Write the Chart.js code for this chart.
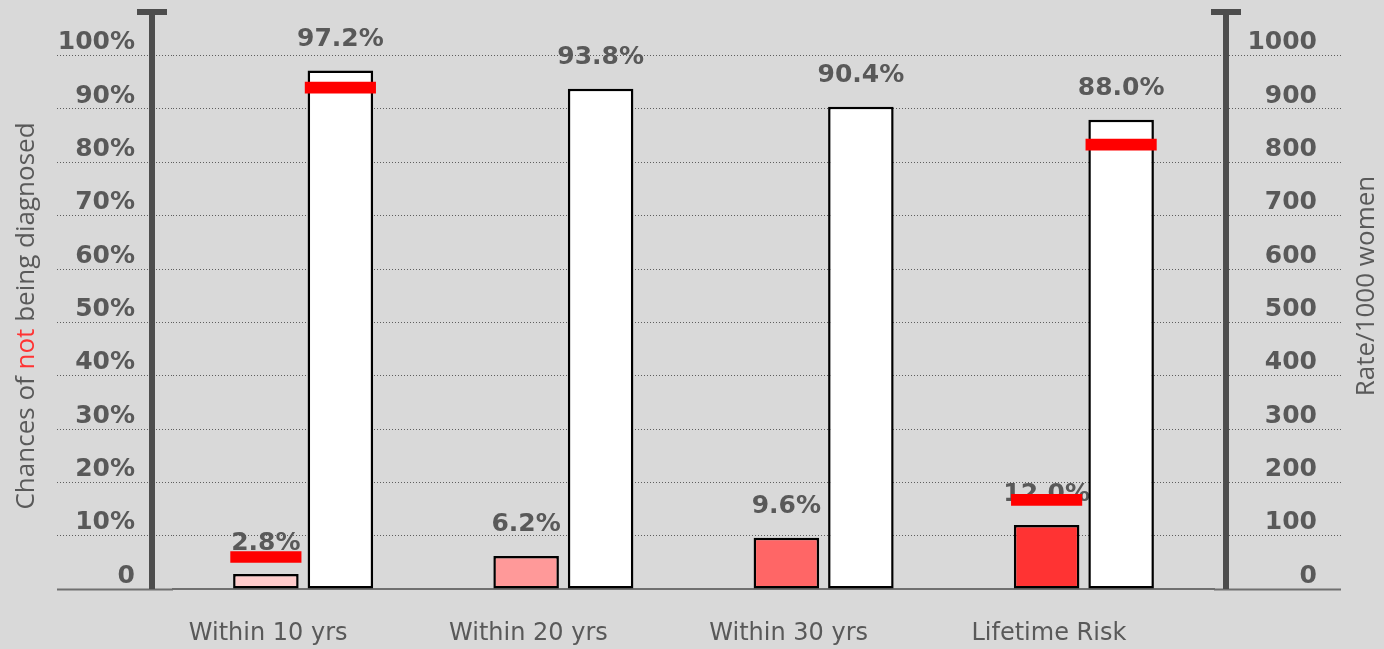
<!DOCTYPE html>
<html>
<head>
<meta charset="utf-8">
<title>Chances of not being diagnosed</title>
<script src="https://cdn.jsdelivr.net/npm/chart.js@4.4.1/dist/chart.umd.min.js"></script>
<style>
  html, body { margin: 0; padding: 0; background: #d9d9d9; }
  #wrap { position: relative; width: 1384px; height: 649px; }
</style>
</head>
<body>
<div id="wrap"><canvas id="chart"></canvas></div>
<script>
const categories = ['Within 10 yrs', 'Within 20 yrs', 'Within 30 yrs', 'Lifetime Risk'];
const diagnosedPct = [2.8, 6.2, 9.6, 12.0];
const notDiagnosedPct = [97.2, 93.8, 90.4, 88.0];
const diagnosedColors = ['#ffcccc', '#ff9999', '#ff6666', '#ff3333'];

// rate per 1000 women, drawn as red marks against the right axis
const rateDiagnosed = [60, null, null, 167];
const rateNotDiagnosed = [940, null, null, 833];

const pctTicks = [0, 10, 20, 30, 40, 50, 60, 70, 80, 90, 100];
const rateTicks = [0, 100, 200, 300, 400, 500, 600, 700, 800, 900, 1000];

const GREY = '#595959';
const GRID = '#5e5e5e';
const BASE = '#707070';
const MARK_HALF = 11;        // half thickness of a rate mark, in rate units
const CAT_PCT = 0.5725;

const toMark = v => (v == null ? null : [v - MARK_HALF, v + MARK_HALF]);

const tickStyle = {
  tickColor: c => (c.tick && c.tick.value === 0 ? BASE : GRID),
  tickWidth: c => (c.tick && c.tick.value === 0 ? 2 : 1),
  tickBorderDash: c => (c.tick && c.tick.value === 0 ? [] : [1, 2])
};

// keep the plot top fixed by the layout padding only
const noEdgePadding = s => { s.paddingTop = 0; s.paddingBottom = 0; };

// axis posts, value labels and the two rotated titles
const decorations = {
  id: 'decorations',
  beforeDatasetsDraw(chart) {
    const { ctx, chartArea: a } = chart;
    ctx.save();
    ctx.fillStyle = '#4d4d4d';
    [a.left - 21, a.right + 12].forEach(x => {
      ctx.fillRect(x - 3, a.top - 4, 6, a.bottom - a.top + 4);
      ctx.fillRect(x - 15, a.top - 4, 30, 6);
    });

    ctx.font = 'bold 25px "DejaVu Sans"';
    ctx.fillStyle = GREY;
    ctx.textAlign = 'center';
    ctx.textBaseline = 'middle';
    [0, 1].forEach(i => {
      const values = chart.data.datasets[i].data;
      chart.getDatasetMeta(i).data.forEach((bar, j) => {
        ctx.fillText(values[j].toFixed(1) + '%', bar.x, bar.y - 31);
      });
    });
    ctx.restore();
  },
  afterDraw(chart) {
    const { ctx } = chart;
    ctx.save();
    ctx.font = '26px "Open Sans"';
    ctx.textBaseline = 'middle';
    ctx.textAlign = 'left';

    // left title, with "not" picked out in red
    const parts = [['Chances of ', GREY], ['not', '#ff3333'], [' being diagnosed', GREY]];
    const total = parts.reduce((s, p) => s + ctx.measureText(p[0]).width, 0);
    ctx.translate(27, 316);
    ctx.rotate(-Math.PI / 2);
    let x = -total / 2;
    parts.forEach(([txt, col]) => {
      ctx.fillStyle = col;
      ctx.fillText(txt, x, 0);
      x += ctx.measureText(txt).width;
    });
    ctx.setTransform(1, 0, 0, 1, 0, 0);

    ctx.translate(chart.width - 17, 286);
    ctx.rotate(-Math.PI / 2);
    ctx.textAlign = 'center';
    ctx.fillStyle = GREY;
    ctx.fillText('Rate/1000 women', 0, 0);
    ctx.restore();
  }
};

new Chart(document.getElementById('chart'), {
  type: 'bar',
  data: {
    labels: categories,
    datasets: [
      {
        label: 'Diagnosed',
        data: diagnosedPct,
        backgroundColor: diagnosedColors,
        borderColor: '#000000',
        borderWidth: 2.5,
        borderSkipped: false,
        stack: 'a',
        yAxisID: 'y',
        order: 1,
        categoryPercentage: CAT_PCT,
        barPercentage: 0.88
      },
      {
        label: 'Not diagnosed',
        data: notDiagnosedPct,
        backgroundColor: '#ffffff',
        borderColor: '#000000',
        borderWidth: 2.5,
        borderSkipped: false,
        stack: 'b',
        yAxisID: 'y',
        order: 1,
        categoryPercentage: CAT_PCT,
        barPercentage: 0.88
      },
      {
        label: 'Rate diagnosed',
        data: rateDiagnosed.map(toMark),
        backgroundColor: '#ff0000',
        borderWidth: 0,
        stack: 'a',
        yAxisID: 'y2',
        order: 0,
        categoryPercentage: CAT_PCT,
        barPercentage: 0.955
      },
      {
        label: 'Rate not diagnosed',
        data: rateNotDiagnosed.map(toMark),
        backgroundColor: '#ff0000',
        borderWidth: 0,
        stack: 'b',
        yAxisID: 'y2',
        order: 0,
        categoryPercentage: CAT_PCT,
        barPercentage: 0.955
      }
    ]
  },
  options: {
    responsive: true,
    maintainAspectRatio: false,
    animation: false,
    layout: { padding: { top: 13, right: 67, left: 0, bottom: 0 } },
    plugins: { legend: { display: false }, tooltip: { enabled: false } },
    scales: {
      x: {
        grid: { display: false, drawTicks: false },
        border: { display: true, color: BASE, width: 2 },
        ticks: {
          color: GREY,
          font: { family: 'DejaVu Sans', size: 24 },
          padding: 30,
          labelOffset: -35
        },
        afterFit: s => { s.height = 60; }
      },
      y: {
        position: 'left',
        min: 0,
        max: 108,
        stacked: false,
        afterBuildTicks: s => { s.ticks = pctTicks.map(v => ({ value: v })); },
        afterFit: s => { s.width = 173; noEdgePadding(s); },
        grid: { color: GRID, lineWidth: 1, tickLength: 116, ...tickStyle },
        border: { display: false, dash: [1, 2] },
        ticks: {
          color: GREY,
          font: { family: 'DejaVu Sans', size: 25, weight: 'bold' },
          padding: -78,
          labelOffset: -13,
          callback: v => (v === 0 ? '0' : v + '%')
        }
      },
      y2: {
        position: 'right',
        min: 0,
        max: 1080,
        stacked: false,
        afterBuildTicks: s => { s.ticks = rateTicks.map(v => ({ value: v })); },
        afterFit: s => { s.width = 103; noEdgePadding(s); },
        grid: { drawOnChartArea: false, tickLength: 127, ...tickStyle },
        border: { display: false },
        ticks: {
          color: GREY,
          font: { family: 'DejaVu Sans', size: 25, weight: 'bold' },
          crossAlign: 'far',
          labelOffset: -13,
          callback: v => String(v)
        }
      }
    }
  },
  plugins: [decorations]
});
</script>
</body>
</html>
